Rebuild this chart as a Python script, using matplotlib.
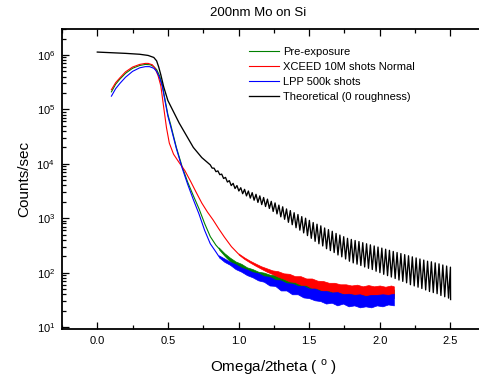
import numpy as np
import matplotlib
matplotlib.use('Agg')
import matplotlib.pyplot as plt
from matplotlib.ticker import MultipleLocator, FormatStrFormatter, LogLocator, NullFormatter

plt.rcParams['font.family'] = ['Liberation Sans', 'DejaVu Sans']

# Pre-exposure (green) - smooth part
green_x = [0.10, 0.13, 0.16, 0.20, 0.25, 0.30, 0.34, 0.375, 0.40, 0.42, 0.44, 0.46, 0.48,
           0.50, 0.52, 0.56, 0.60, 0.64, 0.68, 0.72, 0.76, 0.80, 0.84, 0.86]
green_y = [2.1e5, 2.9e5, 3.6e5, 4.6e5, 5.7e5, 6.4e5, 6.7e5, 6.6e5, 6.1e5, 5.4e5, 4.2e5, 2.8e5, 1.5e5,
           8.0e4, 5.2e4, 2.0e4, 9.0e3, 4.6e3, 2.6e3, 1.5e3, 8.0e2, 4.6e2, 3.2e2, 2.8e2]
# noisy tail: band low / high
green_tx = [0.86, 0.90, 0.94, 0.98, 1.02, 1.06, 1.10, 1.14, 1.18, 1.22, 1.26, 1.30, 1.34, 1.38,
            1.42, 1.46, 1.50, 1.54, 1.58, 1.62, 1.66, 1.70, 1.74, 1.78, 1.82, 1.86, 1.90, 1.94,
            1.98, 2.02, 2.06, 2.10]
green_lo = [270, 205, 160, 138, 116, 104, 90, 84, 76, 72, 66, 63, 58, 56, 51, 49, 45, 43, 42, 39,
            38, 37, 35, 35, 34, 34, 33, 34, 33, 34, 33, 34]
green_hi = [290, 228, 188, 160, 145, 125, 116, 104, 100, 92, 90, 83, 82, 75, 74, 67, 66, 60, 60, 56,
            56, 53, 54, 51, 52, 49, 51, 49, 50, 49, 50, 49]

# XCEED 10M shots Normal (red)
red_x = [0.10, 0.13, 0.16, 0.20, 0.25, 0.30, 0.34, 0.36, 0.39, 0.41, 0.43, 0.45, 0.47, 0.49,
         0.51, 0.54, 0.58, 0.62, 0.66, 0.70, 0.74, 0.78, 0.82, 0.86, 0.90, 0.95, 1.00]
red_y = [2.3e5, 3.1e5, 3.8e5, 4.9e5, 6.0e5, 6.7e5, 7.0e5, 7.0e5, 6.6e5, 5.6e5, 4.2e5, 2.7e5, 1.1e5, 4.6e4,
         2.4e4, 1.5e4, 1.05e4, 7.5e3, 4.8e3, 3.0e3, 1.9e3, 1.3e3, 9.3e2, 6.4e2, 4.5e2, 3.0e2, 2.2e2]
red_tx = [1.00, 1.04, 1.08, 1.12, 1.16, 1.20, 1.24, 1.28, 1.32, 1.36, 1.40, 1.44, 1.48, 1.52,
          1.56, 1.60, 1.64, 1.68, 1.72, 1.76, 1.80, 1.84, 1.88, 1.92, 1.96, 2.00, 2.04, 2.08, 2.10]
red_lo = [215, 179, 154, 134, 118, 104, 94, 84, 77, 69, 67, 60, 59, 52, 51, 46, 47, 43, 43, 40,
          41, 39, 39, 38, 39, 37, 39, 37, 38]
red_hi = [225, 191, 166, 147, 131, 120, 110, 106, 97, 95, 86, 86, 78, 78, 71, 70, 65, 65, 61, 61,
          58, 60, 56, 59, 56, 58, 55, 58, 56]

# LPP 500k shots (blue)
blue_x = [0.10, 0.13, 0.16, 0.20, 0.25, 0.30, 0.34, 0.37, 0.40, 0.42, 0.44, 0.46, 0.48,
          0.50, 0.52, 0.56, 0.60, 0.64, 0.68, 0.72, 0.76, 0.80, 0.84, 0.86]
blue_y = [1.75e5, 2.4e5, 3.0e5, 3.9e5, 5.0e5, 5.8e5, 6.1e5, 6.1e5, 5.7e5, 5.0e5, 3.9e5, 2.7e5, 1.4e5,
          7.5e4, 4.8e4, 1.9e4, 8.5e3, 4.2e3, 2.2e3, 1.2e3, 6.0e2, 3.4e2, 2.4e2, 2.0e2]
blue_tx = [0.86, 0.90, 0.94, 0.98, 1.02, 1.06, 1.10, 1.14, 1.18, 1.22, 1.26, 1.30, 1.34, 1.38,
           1.42, 1.46, 1.50, 1.54, 1.58, 1.62, 1.66, 1.70, 1.74, 1.78, 1.82, 1.86, 1.90, 1.94,
           1.98, 2.02, 2.06, 2.10]
blue_lo = [192, 158, 139, 116, 104, 90, 82, 72, 68, 58, 57, 47, 47, 40, 40, 35, 34, 31, 30, 27,
           28, 25, 27, 24, 25, 23, 24, 23, 25, 24, 26, 25]
blue_hi = [208, 182, 158, 142, 124, 114, 102, 98, 86, 84, 74, 72, 64, 63, 57, 57, 51, 51, 46, 46,
           43, 44, 40, 41, 39, 40, 37, 39, 39, 40, 39, 41]

# Theoretical (0 roughness) - smooth part then Kiessig fringes
theo_x = [0.0, 0.10, 0.20, 0.30, 0.36, 0.40, 0.42, 0.435, 0.45, 0.47, 0.50, 0.54,
          0.58, 0.62, 0.68, 0.74]
theo_y = [1.13e6, 1.10e6, 1.07e6, 1.03e6, 9.8e5, 9.0e5, 7.8e5, 6.0e5, 4.3e5, 2.6e5, 1.45e5, 9.0e4,
          5.6e4, 3.7e4, 2.0e4, 1.3e4]
fringe_start = 0.80
fringe_period = 0.027
fringe_max = [9550, 8320, 7410, 6460, 5620, 4900, 4370, 3980, 3630, 3390, 3160, 2950, 2750, 2570,
              2400, 2240, 2040, 1910, 1740, 1620, 1480, 1380, 1260, 1170, 1070, 1000, 912, 832,
              776, 724, 661, 617, 575, 525, 490, 457, 427, 407, 389, 372, 355, 339, 324, 309,
              295, 282, 269, 257, 245, 234, 224, 214, 204, 195, 186, 178, 170, 162, 158, 151,
              145, 138, 132, 126]
fringe_min = [8320, 7160, 6310, 5370, 4620, 3980, 3510, 3160, 2820, 2570, 2340, 2140, 1950, 1780,
              1640, 1510, 1330, 1200, 1060, 955, 841, 759, 668, 603, 537, 479, 427, 376,
              339, 309, 275, 254, 234, 211, 195, 178, 162, 151, 143, 135, 127, 120, 114, 106,
              100, 93, 88, 83, 78, 73, 69, 65, 60, 57, 54, 51, 48, 45, 43, 41,
              38, 36, 34, 32]

# build the fringe zig-zag from the read maxima / minima
fx, fy = [], []
for k in range(len(fringe_max)):
    xk = fringe_start + k * fringe_period
    fx += [xk, xk + fringe_period / 2]
    fy += [fringe_max[k], fringe_min[k]]
fx[-1] = fringe_start + (len(fringe_max) - 1) * fringe_period + 0.001
theo_all_x = theo_x + fx
theo_all_y = theo_y + fy

fig = plt.figure(figsize=(4.79, 3.83), dpi=100)
ax = fig.add_axes([62 / 479, 54 / 383, 423.6 / 479, 300 / 383])

lw = 0.8
ax.plot(green_x, green_y, color='#008000', lw=lw, label='Pre-exposure')
ax.fill_between(green_tx, green_lo, green_hi, color='#008000', lw=0.5)
ax.plot(red_x, red_y, color='#ff0000', lw=lw, label='XCEED 10M shots Normal')
ax.fill_between(red_tx, red_lo, red_hi, color='#ff0000', lw=0.5)
ax.plot(blue_x, blue_y, color='#0000ff', lw=lw, label='LPP 500k shots')
ax.fill_between(blue_tx, blue_lo, blue_hi, color='#0000ff', lw=0.5)
ax.plot(theo_all_x, theo_all_y, color='black', lw=0.95, label='Theoretical (0 roughness)')

ax.set_yscale('log')
ax.set_xlim(-0.25, 2.75)
ax.set_ylim(9.2, 3.0e6)

ax.xaxis.set_major_locator(MultipleLocator(0.5))
ax.xaxis.set_minor_locator(MultipleLocator(0.25))
ax.xaxis.set_major_formatter(FormatStrFormatter('%.1f'))
ax.yaxis.set_major_locator(LogLocator(base=10, numticks=10))
ax.yaxis.set_minor_locator(LogLocator(base=10, subs=np.arange(2, 10), numticks=10))
ax.yaxis.set_minor_formatter(NullFormatter())

ax.tick_params(which='both', direction='in', top=True, right=False, labelsize=8, width=0.9)
ax.tick_params(which='major', length=5, pad=5)
ax.tick_params(which='minor', length=3)
for side in ['left', 'bottom', 'top']:
    ax.spines[side].set_linewidth(1.3)
ax.spines['right'].set_visible(False)

ax.set_xlabel('Omega/2theta ( $^\\mathregular{o}$ )', fontsize=11, labelpad=8)
ax.set_ylabel('Counts/sec', fontsize=11, labelpad=4)
fig.text(258 / 479, 1 - 13 / 383, '200nm Mo on Si', fontsize=9.5, ha='center', va='center')

leg = ax.legend(loc='upper left', bbox_to_anchor=(249 / 479, 1 - 47 / 383),
                bbox_transform=fig.transFigure, frameon=False, fontsize=8, handlelength=2.7,
                handletextpad=0.35, labelspacing=0.45, borderpad=0, borderaxespad=0)

fig.savefig('out.png', dpi=100)
